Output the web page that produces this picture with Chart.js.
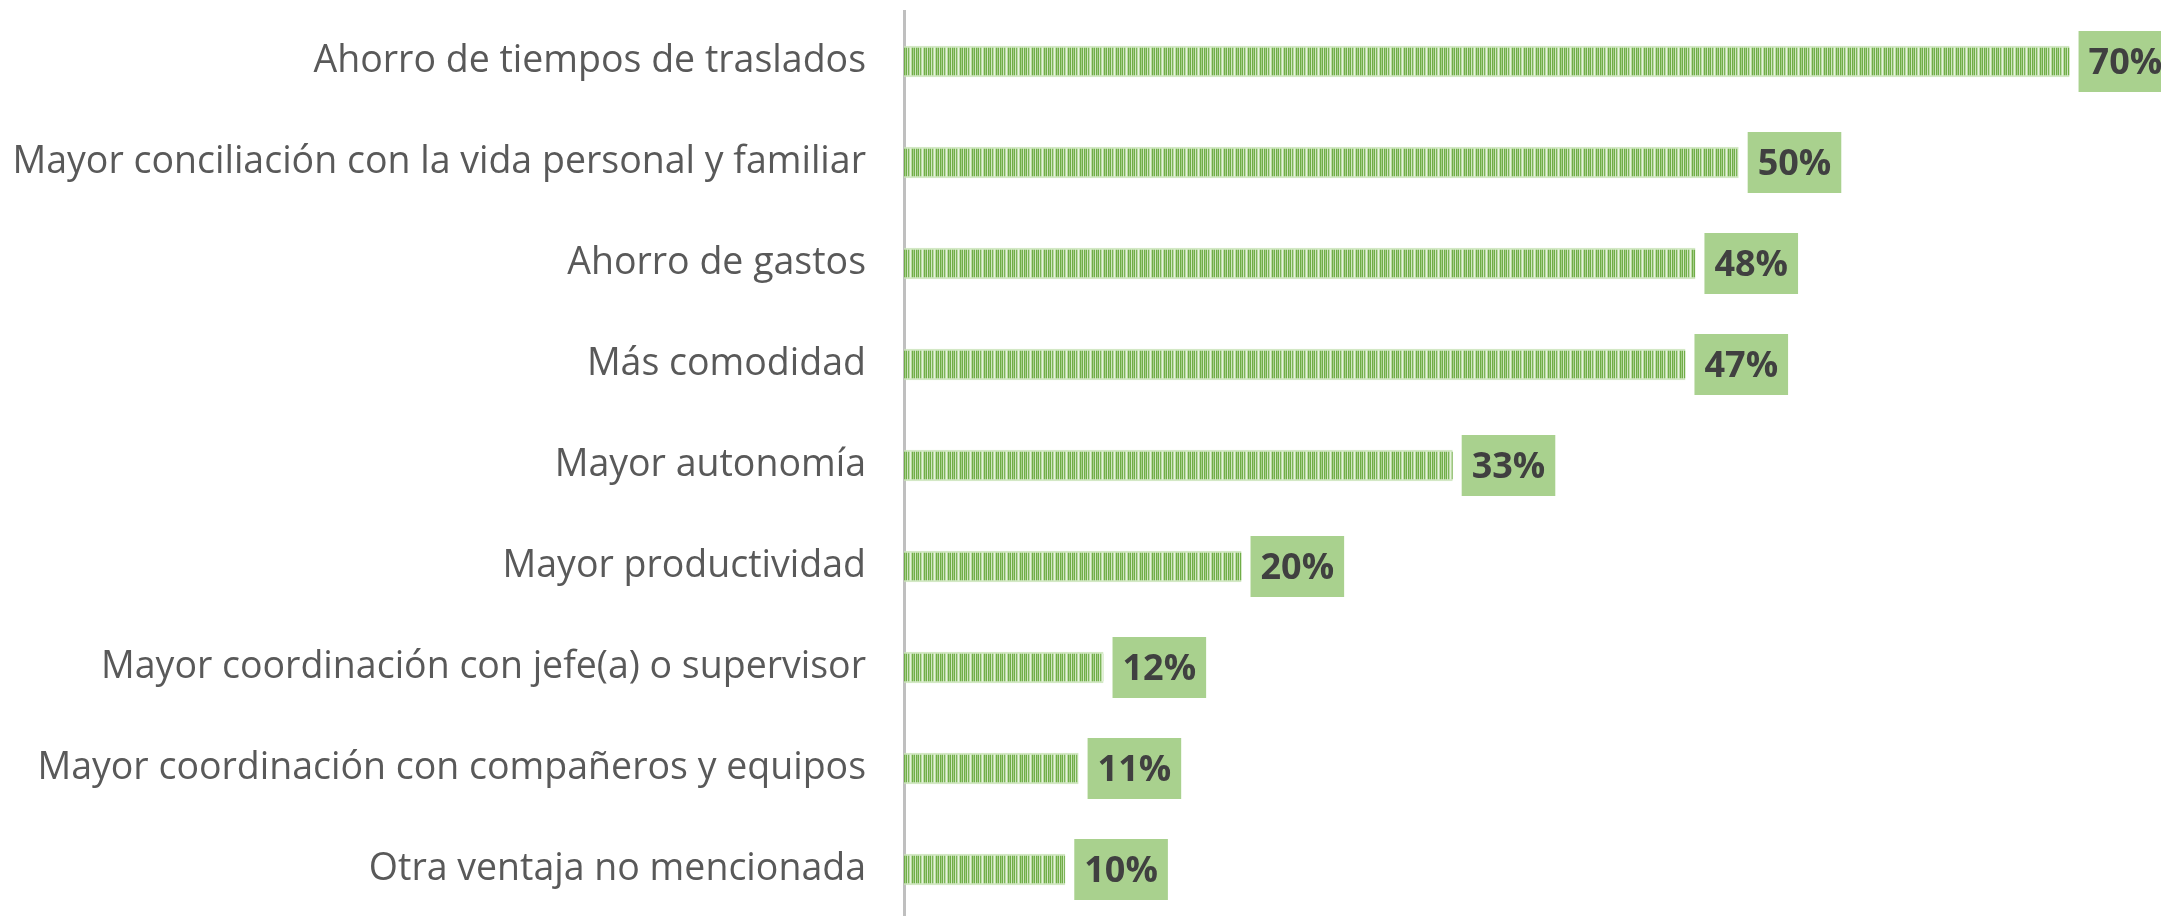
<!DOCTYPE html>
<html lang="es">
<head>
<meta charset="UTF-8">
<title>Ventajas del teletrabajo</title>
<script src="https://cdn.jsdelivr.net/npm/chart.js"></script>
<style>
  html, body { margin: 0; padding: 0; background: #fff; overflow: hidden; }
  #wrap { width: 2161px; height: 920px; }
</style>
</head>
<body>
<div id="wrap"><canvas id="chart"></canvas></div>
<script>
// data
const categories = [
  'Ahorro de tiempos de traslados',
  'Mayor conciliación con la vida personal y familiar',
  'Ahorro de gastos',
  'Más comodidad',
  'Mayor autonomía',
  'Mayor productividad',
  'Mayor coordinación con jefe(a) o supervisor',
  'Mayor coordinación con compañeros y equipos',
  'Otra ventaja no mencionada'
];
const values = [70.1, 50.2, 47.6, 47.0, 33.0, 20.3, 12.0, 10.5, 9.7];
const valueLabels = ['70%', '50%', '48%', '47%', '33%', '20%', '12%', '11%', '10%'];

// vertical stripe fill like the Excel pattern
function stripePattern() {
  const c = document.createElement('canvas');
  const cols = ['#70ad47', '#a4ce88', '#70ad47', '#cfe6bf', '#70ad47', '#a4ce88',
                '#70ad47', '#cfe6bf', '#7db55a', '#bcdba6', '#e5f2dc', '#bcdba6'];
  c.width = cols.length;
  c.height = 4;
  const g = c.getContext('2d');
  cols.forEach((col, i) => { g.fillStyle = col; g.fillRect(i, 0, 1, 4); });
  return g.createPattern(c, 'repeat');
}

// green boxed value labels next to each bar
const boxLabels = {
  id: 'boxLabels',
  afterDatasetsDraw(chart) {
    const ctx = chart.ctx;
    const meta = chart.getDatasetMeta(0);
    ctx.save();
    ctx.font = 'bold 36px "Open Sans"';
    ctx.textBaseline = 'middle';
    ctx.textAlign = 'left';
    meta.data.forEach((bar, i) => {
      const text = valueLabels[i];
      const w = ctx.measureText(text).width + 20;
      const h = 61;
      const x = bar.x + 9;
      ctx.fillStyle = '#a9d18e';
      ctx.fillRect(x, bar.y - h / 2, w, h);
      ctx.fillStyle = '#404040';
      ctx.fillText(text, x + 10, bar.y + 2);
    });
    ctx.restore();
  }
};

const ctx = document.getElementById('chart').getContext('2d');
new Chart(ctx, {
  type: 'bar',
  data: {
    labels: categories,
    datasets: [{
      data: values,
      backgroundColor: stripePattern(),
      borderColor: 'rgba(200, 226, 182, 0.8)',
      borderWidth: { top: 2, bottom: 2, left: 0, right: 0 },
      borderSkipped: false,
      barThickness: 31
    }]
  },
  options: {
    indexAxis: 'y',
    responsive: true,
    maintainAspectRatio: false,
    animation: false,
    layout: { padding: { top: 11, left: 0, right: 0, bottom: 0 } },
    plugins: {
      legend: { display: false },
      tooltip: { enabled: false }
    },
    scales: {
      x: { display: false, min: 0, max: 75.6 },
      y: {
        afterFit(scale) {
          scale.width = 904;
          scale.paddingTop = 0;
          scale.paddingBottom = 0;
        },
        grid: { display: true, drawOnChartArea: false, drawTicks: false, color: 'rgba(0,0,0,0)' },
        border: { display: true, color: '#bfbfbf', width: 3 },
        ticks: {
          padding: 38,
          color: '#595959',
          font: { family: 'Open Sans', size: 37.5 }
        }
      }
    }
  },
  plugins: [boxLabels]
});
</script>
</body>
</html>
